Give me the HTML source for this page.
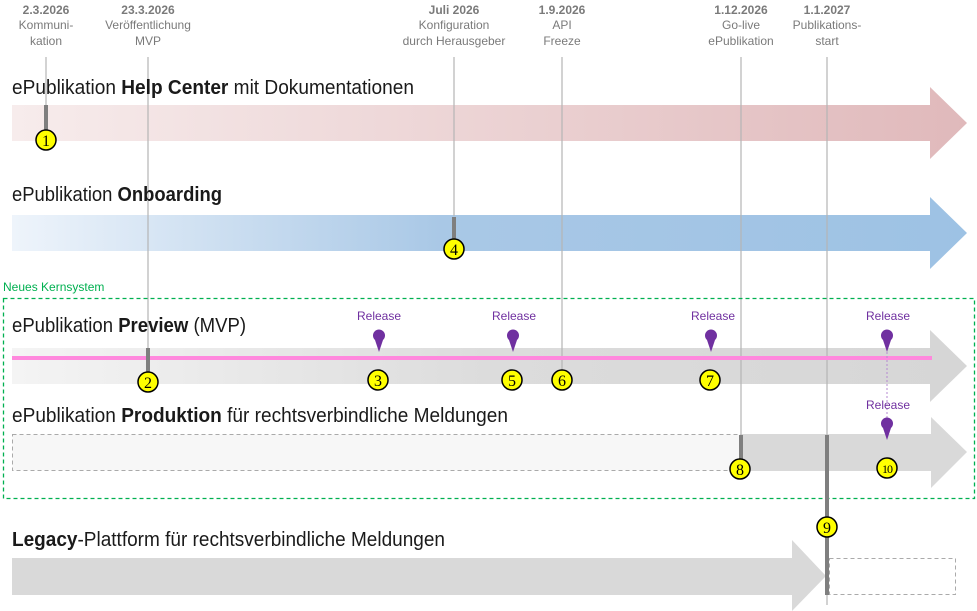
<!DOCTYPE html>
<html><head><meta charset="utf-8"><style>html,body{margin:0;padding:0;background:#fff}svg{display:block}</style></head>
<body>
<svg width="977" height="611" viewBox="0 0 977 611" xmlns="http://www.w3.org/2000/svg" font-family="Liberation Sans, sans-serif">
<defs>
<linearGradient id="gp" x1="0" x2="1"><stop offset="0" stop-color="#f7ecec"/><stop offset="1" stop-color="#e0b9bb"/></linearGradient>
<linearGradient id="gb" x1="0" x2="1"><stop offset="0" stop-color="#eef4fb"/><stop offset="0.45" stop-color="#a9c8e6"/><stop offset="1" stop-color="#9dc2e4"/></linearGradient>
<linearGradient id="gg" x1="0" x2="1"><stop offset="0" stop-color="#f4f4f4"/><stop offset="0.5" stop-color="#dcdcdc"/><stop offset="1" stop-color="#d6d6d6"/></linearGradient>
<g id="pin"><path d="M0,19 L-4,7 A6,6 0 1 1 4,7 Z" fill="#7030a0"/></g>
</defs>

<!-- date labels -->
<g font-size="12" fill="#7a7a7a" text-anchor="middle">
<text x="46" y="14" font-weight="bold">2.3.2026</text><text x="46" y="29">Kommuni-</text><text x="46" y="45">kation</text>
<text x="148" y="14" font-weight="bold">23.3.2026</text><text x="148" y="29">Veröffentlichung</text><text x="148" y="45">MVP</text>
<text x="454" y="14" font-weight="bold">Juli 2026</text><text x="454" y="29">Konfiguration</text><text x="454" y="45">durch Herausgeber</text>
<text x="562" y="14" font-weight="bold">1.9.2026</text><text x="562" y="29">API</text><text x="562" y="45">Freeze</text>
<text x="741" y="14" font-weight="bold">1.12.2026</text><text x="741" y="29">Go-live</text><text x="741" y="45">ePublikation</text>
<text x="827" y="14" font-weight="bold">1.1.2027</text><text x="827" y="29">Publikations-</text><text x="827" y="45">start</text>
</g>

<!-- arrows -->
<path d="M12,105 H930 V87 L967,123 L930,159 V141 H12 Z" fill="url(#gp)"/>
<path d="M12,215 H930 V197 L967,233 L930,269 V251 H12 Z" fill="url(#gb)"/>
<path d="M12,348 H930 V330 L967,366 L930,402 V384 H12 Z" fill="url(#gg)"/>
<rect x="12.5" y="434.5" width="728" height="36" fill="#f7f7f7" stroke="#aaa" stroke-dasharray="4,3"/>
<path d="M741,434 H931 V417 L967,452 L931,488 V471 H741 Z" fill="#d9d9d9"/>
<path d="M12,558 H792 V540 L826,576 L792,611 V595 H12 Z" fill="#d9d9d9"/>
<rect x="829.5" y="558.5" width="126" height="36" fill="#fff" stroke="#aaa" stroke-dasharray="4,3"/>

<!-- vertical lines -->
<g stroke="#b5b5b5" stroke-width="1.2">
<line x1="46" y1="57" x2="46" y2="105"/>
<line x1="148" y1="57" x2="148" y2="350"/>
<line x1="454" y1="57" x2="454" y2="216"/>
<line x1="562" y1="57" x2="562" y2="370"/>
<line x1="741" y1="57" x2="741" y2="436"/>
<line x1="827" y1="57" x2="827" y2="605"/>
</g>

<!-- pink line -->
<rect x="12" y="356" width="920" height="4" fill="#ff88dd"/>

<!-- green box -->
<rect x="3.5" y="298.5" width="971" height="200" fill="none" stroke="#00b050" stroke-width="1.3" stroke-dasharray="4,3"/>
<text x="3" y="291" font-size="12" fill="#00b050">Neues Kernsystem</text>

<!-- titles -->
<g font-size="20" fill="#1a1a1a">
<text x="12" y="94" textLength="402" lengthAdjust="spacingAndGlyphs">ePublikation <tspan font-weight="bold">Help Center</tspan> mit Dokumentationen</text>
<text x="12" y="201" textLength="210" lengthAdjust="spacingAndGlyphs">ePublikation <tspan font-weight="bold">Onboarding</tspan></text>
<text x="12" y="332" textLength="234" lengthAdjust="spacingAndGlyphs">ePublikation <tspan font-weight="bold">Preview</tspan> (MVP)</text>
<text x="12" y="422" textLength="496" lengthAdjust="spacingAndGlyphs">ePublikation <tspan font-weight="bold">Produktion</tspan> für rechtsverbindliche Meldungen</text>
<text x="12" y="546" textLength="433" lengthAdjust="spacingAndGlyphs"><tspan font-weight="bold">Legacy</tspan>-Plattform für rechtsverbindliche Meldungen</text>
</g>

<!-- thick markers -->
<g fill="#7f7f7f">
<rect x="44" y="105" width="4" height="26"/>
<rect x="146" y="348" width="4" height="24"/>
<rect x="452" y="217" width="4" height="22"/>
<rect x="739" y="435" width="4" height="25"/>
<rect x="825" y="435" width="4" height="160"/>
</g>

<!-- releases -->
<line x1="887" y1="352" x2="887" y2="420" stroke="#b48ad0" stroke-width="1" stroke-dasharray="2,2"/>
<g font-size="12" fill="#7030a0" text-anchor="middle">
<text x="379" y="320">Release</text><text x="514" y="320">Release</text><text x="713" y="320">Release</text><text x="888" y="320">Release</text><text x="888" y="409">Release</text>
</g>
<use href="#pin" x="379" y="333"/><use href="#pin" x="513" y="333"/><use href="#pin" x="711" y="333"/><use href="#pin" x="887" y="333"/><use href="#pin" x="887" y="421"/>

<!-- numbered circles -->
<g font-family="Liberation Serif, serif" font-size="16" text-anchor="middle">
<g fill="#ffff00" stroke="#000" stroke-width="1.5">
<circle cx="46" cy="140" r="10"/><circle cx="148" cy="382" r="10"/><circle cx="378" cy="380" r="10"/>
<circle cx="454" cy="249" r="10"/><circle cx="512" cy="380" r="10"/><circle cx="562" cy="380" r="10"/>
<circle cx="710" cy="380" r="10"/><circle cx="740" cy="469" r="10"/><circle cx="827" cy="527" r="10"/><circle cx="887" cy="468" r="10"/>
</g>
<text x="46" y="146">1</text><text x="148" y="388">2</text><text x="378" y="386">3</text><text x="454" y="255">4</text>
<text x="512" y="386">5</text><text x="562" y="386">6</text><text x="710" y="386">7</text><text x="740" y="475">8</text>
<text x="827" y="533">9</text><text x="887" y="473" font-size="12" letter-spacing="-1">10</text>
</g>
</svg>
</body></html>
